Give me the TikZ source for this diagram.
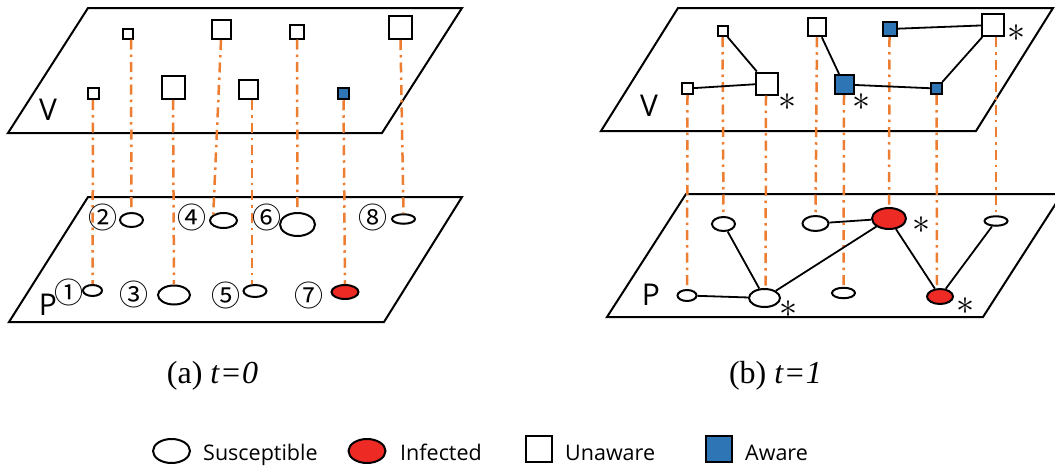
\documentclass[tikz,border=0pt]{standalone}
\usepackage{fontspec}
\setmainfont{Open Sans}
\newfontfamily\cjknum{Noto Sans CJK SC}
\newfontfamily\capfont{Liberation Serif}
\usetikzlibrary{shapes.geometric}
\definecolor{infred}{HTML}{EE2A24}
\definecolor{awblue}{HTML}{2E75B6}
\definecolor{linkor}{HTML}{ED7D31}
\begin{document}
\begin{tikzpicture}[x=1pt,y=-1pt,
  plane/.style={draw=black, line width=2pt, fill=white, line join=miter},
  sq/.style={draw=black, line width=2pt, fill=white, rectangle, inner sep=0pt, minimum size=#1},
  asq/.style={sq=#1, fill=awblue},
  el/.style 2 args={draw=black, line width=2pt, fill=white, ellipse, inner sep=0pt, minimum width=#1, minimum height=#2},
  iel/.style 2 args={el={#1}{#2}, fill=infred},
  vlink/.style={draw=linkor, line width=2.5pt, dash pattern=on 10pt off 5pt on 2.5pt off 5pt},
  tie/.style={draw=black, line width=1.8pt},
  lay/.style={font=\fontsize{30}{30}\selectfont, inner sep=0pt},
  num/.style={font=\cjknum\fontsize{29}{29}\selectfont, inner ysep=0pt, inner xsep=-4pt},
  astx/.style={inner sep=0pt, scale=3.6},
  captxt/.style={font=\capfont\fontsize{32}{32}\selectfont, inner sep=0pt, anchor=base},
  leg/.style={font=\fontsize{21.5}{21.5}\selectfont, inner sep=0pt, anchor=base west}
]
\clip (0,0) rectangle (1055,466);
\fill[white] (0,0) rectangle (1055,466);

% ---------- (a) ----------
\draw[plane] (88,8) -- (462,8) -- (382,133) -- (8,133) -- cycle;
\draw[plane] (88,197) -- (462,197) -- (384,322) -- (9,322) -- cycle;
\node[lay] (Va) at (48,110) {V};
\node[lay] (Pa) at (48,305) {P};

\node[sq=10] (a1) at (128,33.5) {};
\node[sq=19] (a2) at (221,29.5) {};
\node[sq=14] (a3) at (297,31.5) {};
\node[sq=23] (a4) at (400.5,27.5) {};
\node[sq=11] (a5) at (93,93.5) {};
\node[sq=23] (a6) at (173,87.5) {};
\node[sq=19] (a7) at (248.5,89.5) {};
\node[asq=11.5] (a8) at (343.5,93.5) {};

\node[el={19}{11}] (p1) at (92.5,290.5) {};
\node[el={23}{14}] (p2) at (131.5,220) {};
\node[el={32}{19}] (p3) at (174,295) {};
\node[el={27}{15}] (p4) at (223.5,220.5) {};
\node[el={23}{12}] (p5) at (255,291) {};
\node[el={35}{23}] (p6) at (297.5,224.5) {};
\node[iel={27}{14}] (p7) at (345,292) {};
\node[el={23}{9.5}] (p8) at (403.5,219) {};

\draw[vlink] (a5.south) -- (p1.north);
\draw[vlink] ([xshift=3pt]a1.south) -- (p2.north);
\draw[vlink] (a6.south) -- (p3.north);
\draw[vlink] (a2.south) -- (p4.north west);
\draw[vlink] ([xshift=3.5pt]a7.south) -- ([xshift=-3pt]p5.north);
\draw[vlink] (a3.south) -- (p6.north);
\draw[vlink] (a8.south) -- (p7.north);
\draw[vlink] (a4.south) -- (p8.north);

\node[num] (n1) at (68.5,292.5) {①};
\node[num] (n2) at (103,217) {②};
\node[num] (n3) at (133.5,294) {③};
\node[num] (n4) at (192,217) {④};
\node[num] (n5) at (226,295) {⑤};
\node[num] (n6) at (266.5,217) {⑥};
\node[num] (n7) at (309,295) {⑦};
\node[num] (n8) at (373,217) {⑧};

\node[captxt] (capa) at (212.5,383) {(a) \textit{t}\hspace{2pt}=\hspace{2pt}\textit{0}};

% ---------- (b) ----------
\draw[plane] (678,8) -- (1053,8) -- (976,131) -- (601,131) -- cycle;
\draw[plane] (686,194) -- (1062,194) -- (983,317) -- (607,317) -- cycle;
\node[lay] (Vb) at (649,106) {V};
\node[lay] (Pb) at (651,295) {P};

\node[sq=10] (s1) at (722.5,31) {};
\node[sq=22] (s2) at (767,83.5) {};
\node[sq=11] (s3) at (687.5,88.5) {};
\node[sq=18.5] (s4) at (817,27) {};
\node[asq=19] (s5) at (844,84.5) {};
\node[asq=14] (s6) at (889.5,29) {};
\node[asq=11] (s7) at (936.5,88.5) {};
\node[sq=22] (s8) at (993,25) {};

\node[el={23}{14}] (e1) at (723.5,224) {};
\node[el={26}{15}] (e2) at (815.5,223.5) {};
\node[iel={34}{21}] (e3) at (889,218.5) {};
\node[el={23}{9.5}] (e4) at (996,221) {};
\node[el={19}{11}] (e5) at (687,295.5) {};
\node[el={31}{18}] (e6) at (764.5,298) {};
\node[el={23}{10.5}] (e7) at (843.5,293) {};
\node[iel={26}{15}] (e8) at (940,296.5) {};

\draw[vlink] (s3.south) -- (e5.north);
\draw[vlink] (s1.south) -- (e1.north);
\draw[vlink] ([xshift=-1pt]s2.south) -- ([xshift=1pt]e6.north);
\draw[vlink] (s4.south) -- (e2.north);
\draw[vlink] (s5.south) -- (e7.north);
\draw[vlink] (s6.south) -- (e3.north);
\draw[vlink] (s7.south) -- ([xshift=-3pt]e8.north);
\draw[vlink] ([xshift=3pt]s8.south) -- (e4.north);

\draw[tie] (s3) -- (s2);
\draw[tie] (s1) -- (s2);
\draw[tie] (s4) -- (s5);
\draw[tie] (s5) -- (s7);
\draw[tie] (s6) -- (s8);
\draw[tie] (s7) -- (s8);

\draw[tie] (e5) -- (e6);
\draw[tie] (e1) -- (e6);
\draw[tie] (e6) -- (e3);
\draw[tie] (e2) -- (e3);
\draw[tie] (e3) -- (e8);
\draw[tie] (e4) -- (e8);

\node[astx] (k1) at (787.5,102) {$\ast$};
\node[astx] (k2) at (861,102) {$\ast$};
\node[astx] (k3) at (1016.5,33) {$\ast$};
\node[astx] (k4) at (921,225) {$\ast$};
\node[astx] (k5) at (788.5,309.5) {$\ast$};
\node[astx] (k6) at (965.5,306) {$\ast$};

\node[captxt] (capb) at (775.5,383) {(b) \textit{t}\hspace{2pt}=\hspace{2pt}\textit{1}};

% ---------- legend ----------
\node[el={37}{24}] (l1) at (171.5,451) {};
\node[leg] (t1) at (203,460) {Susceptible};
\node[iel={37}{24}] (l2) at (367,451) {};
\node[leg] (t2) at (400,460) {Infected};
\node[sq=26] (l3) at (539,449) {};
\node[leg] (t3) at (565,460) {Unaware};
\node[asq=26] (l4) at (719,449) {};
\node[leg] (t4) at (745,460) {Aware};
\end{tikzpicture}
\end{document}
